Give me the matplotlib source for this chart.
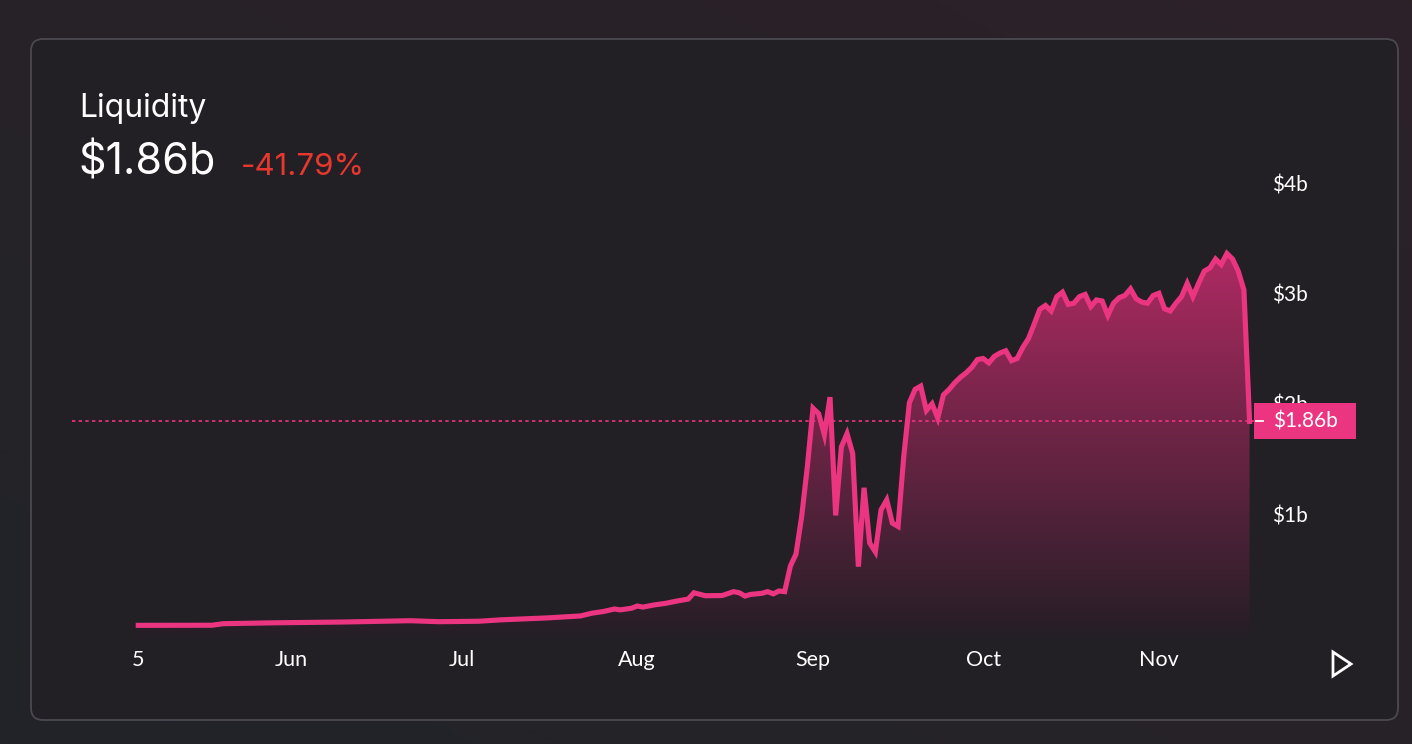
import matplotlib
matplotlib.use("Agg")
import matplotlib.pyplot as plt
import matplotlib.dates as mdates
from matplotlib.patches import FancyBboxPatch, Rectangle, Polygon
import numpy as np
import datetime as dt

# ---------------- data ----------------
dates = [
    "2020-05-05", "2020-05-18", "2020-05-20", "2020-05-29", "2020-06-10", "2020-06-22",
    "2020-06-27", "2020-07-04", "2020-07-08", "2020-07-16", "2020-07-22", "2020-07-24",
    "2020-07-26", "2020-07-28", "2020-07-29", "2020-07-31", "2020-08-01", "2020-08-02",
    "2020-08-04", "2020-08-06", "2020-08-08", "2020-08-10", "2020-08-11", "2020-08-13",
    "2020-08-16", "2020-08-18", "2020-08-19", "2020-08-20", "2020-08-21", "2020-08-23",
    "2020-08-24", "2020-08-25", "2020-08-26", "2020-08-27", "2020-08-28", "2020-08-29",
    "2020-08-30", "2020-08-31", "2020-09-01", "2020-09-02", "2020-09-03", "2020-09-04",
    "2020-09-05", "2020-09-06", "2020-09-07", "2020-09-08", "2020-09-09", "2020-09-10",
    "2020-09-11", "2020-09-12", "2020-09-13", "2020-09-14", "2020-09-15", "2020-09-16",
    "2020-09-17", "2020-09-18", "2020-09-19", "2020-09-20", "2020-09-21", "2020-09-22",
    "2020-09-23", "2020-09-24", "2020-09-25", "2020-09-26", "2020-09-27", "2020-09-28",
    "2020-09-29", "2020-09-30", "2020-10-01", "2020-10-02", "2020-10-03", "2020-10-04",
    "2020-10-05", "2020-10-06", "2020-10-07", "2020-10-08", "2020-10-09", "2020-10-10",
    "2020-10-11", "2020-10-12", "2020-10-13", "2020-10-14", "2020-10-15", "2020-10-16",
    "2020-10-17", "2020-10-18", "2020-10-19", "2020-10-20", "2020-10-21", "2020-10-22",
    "2020-10-23", "2020-10-24", "2020-10-25", "2020-10-26", "2020-10-27", "2020-10-28",
    "2020-10-29", "2020-10-30", "2020-10-31", "2020-11-01", "2020-11-02", "2020-11-03",
    "2020-11-04", "2020-11-05", "2020-11-06", "2020-11-07", "2020-11-08", "2020-11-09",
    "2020-11-10", "2020-11-11", "2020-11-12", "2020-11-13", "2020-11-14", "2020-11-15",
    "2020-11-16", "2020-11-17",
]
liquidity_b = [
    0.015, 0.016, 0.030, 0.038, 0.045, 0.057,
    0.048, 0.052, 0.065, 0.082, 0.100, 0.125,
    0.140, 0.163, 0.155, 0.170, 0.190, 0.180,
    0.200, 0.214, 0.235, 0.253, 0.310, 0.283,
    0.285, 0.320, 0.310, 0.280, 0.295, 0.305,
    0.320, 0.300, 0.326, 0.320, 0.550, 0.660,
    1.000, 1.450, 1.980, 1.930, 1.740, 2.080,
    1.010, 1.630, 1.750, 1.570, 0.546, 1.260,
    0.760, 0.680, 1.060, 1.150, 0.940, 0.910,
    1.540, 2.030, 2.150, 2.180, 1.960, 2.020,
    1.890, 2.100, 2.150, 2.210, 2.260, 2.300,
    2.350, 2.420, 2.430, 2.390, 2.450, 2.480,
    2.500, 2.410, 2.430, 2.530, 2.610, 2.740,
    2.875, 2.910, 2.860, 2.990, 3.030, 2.920,
    2.930, 2.990, 3.010, 2.900, 2.960, 2.950,
    2.820, 2.930, 2.980, 3.000, 3.060, 2.970,
    2.940, 2.930, 3.000, 3.020, 2.880, 2.860,
    2.930, 2.990, 3.110, 2.990, 3.110, 3.220,
    3.250, 3.330, 3.280, 3.380, 3.330, 3.220,
    3.050, 1.860,
]
x_tick_dates = ["2020-05-05", "2020-06-01", "2020-07-01", "2020-08-01",
                "2020-09-01", "2020-10-01", "2020-11-01"]
x_tick_labels = ["5", "Jun", "Jul", "Aug", "Sep", "Oct", "Nov"]
y_ticks = [1, 2, 3, 4]
y_tick_labels = ["$1b", "$2b", "$3b", "$4b"]
title = "Liquidity"
current_label = "$1.86b"
change_label = "-41.79%"
current_value = 1.86

# ---------------- style ----------------
W, H = 1412, 744
PINK = "#ec3580"
fig = plt.figure(figsize=(W / 100, H / 100), dpi=100)

# background gradient
bg = fig.add_axes([0, 0, 1, 1])
bg.set_xlim(0, W)
bg.set_ylim(H, 0)
bg.axis("off")
gx = np.linspace(0, 1, 200)
gy = np.linspace(0, 1, 200)
GX, GY = np.meshgrid(gx, gy)
t = np.clip((GX + GY) / 2, 0, 1)  # 0 bottom-left -> 1 top-right
c0 = np.array([33, 36, 40]) / 255
c1 = np.array([45, 33, 40]) / 255
img = c0[None, None, :] * (1 - t[..., None]) + c1[None, None, :] * t[..., None]
bg.imshow(img, extent=[0, W, H, 0], origin="lower", aspect="auto", zorder=0)
bg.set_xlim(0, W)
bg.set_ylim(H, 0)
card = FancyBboxPatch((31, 39), 1398 - 31, 720 - 39,
                      boxstyle="round,pad=0,rounding_size=12",
                      facecolor="#221f25", edgecolor="#4b4850", linewidth=1.3, zorder=1)
bg.add_patch(card)

# title texts
bg.text(79, 108, title, color="white", fontsize=23, family="Inter",
        va="center", ha="left", zorder=3)
bg.text(78, 163, current_label, color="white", fontsize=31, family="Inter",
        va="center", ha="left", zorder=3)
bg.text(241, 167, change_label, color="#e8372f", fontsize=22.5, family="Inter",
        va="center", ha="left", zorder=3)

# play triangle
tri = Polygon([[1333, 652], [1351, 664], [1333, 676]], closed=True, fill=False,
              edgecolor="white", linewidth=2.0, joinstyle="miter", zorder=3)
bg.add_patch(tri)

# ---------------- main chart ----------------
def px_to_v(y):
    return (627 - y) / 110.5

sep1 = mdates.date2num(dt.datetime(2020, 9, 1))
def px_to_x(x):
    return sep1 + (x - 813) / 5.67

left_px, right_px, top_px, bot_px = 72, 1254, 160, 640
ax = fig.add_axes([left_px / W, 1 - bot_px / H, (right_px - left_px) / W, (bot_px - top_px) / H])
ax.patch.set_alpha(0)
for s in ax.spines.values():
    s.set_visible(False)

xd = mdates.date2num([dt.datetime.strptime(d, "%Y-%m-%d") for d in dates])
yv = np.array(liquidity_b)

# gradient fill
ybot = px_to_v(bot_px)
ytop = max(liquidity_b)
poly = np.vstack([np.column_stack([xd, yv]), [[xd[-1], ybot], [xd[0], ybot]]])
clip = Polygon(poly, closed=True, transform=ax.transData, facecolor="none", edgecolor="none")
ax.add_patch(clip)
top_c = np.array([174, 42, 98]) / 255
bot_c = np.array([36, 30, 38]) / 255
n = 256
f = np.linspace(0, 1, n)[:, None]  # 0 at bottom -> 1 at top
grad = bot_c[None, :] * (1 - f) + top_c[None, :] * f
grad = grad[:, None, :]
im = ax.imshow(grad, extent=[xd[0], xd[-1], ybot, ytop], origin="lower",
               aspect="auto", zorder=1, interpolation="bilinear")
im.set_clip_path(clip)

ax.plot(xd, yv, color=PINK, linewidth=3.7, solid_joinstyle="miter", zorder=3)

# current value dashed line
ax.axhline(current_value, color=PINK, linewidth=1.2, linestyle=(0, (2.0, 2.0)), zorder=2)

ax.set_xlim(px_to_x(left_px), px_to_x(right_px))
ax.set_ylim(px_to_v(bot_px), px_to_v(top_px))

# ticks
ax.set_xticks(mdates.date2num([dt.datetime.strptime(d, "%Y-%m-%d") for d in x_tick_dates]))
ax.set_xticklabels(x_tick_labels)
ax.tick_params(axis="x", length=0, pad=7, labelcolor="white", labelsize=15.5)
for lbl in ax.get_xticklabels():
    lbl.set_family("Lato")
ax.set_yticks([])

# y labels on right (in figure pixel coords)
for v, lab in zip(y_ticks, y_tick_labels):
    ypx = 627 - v * 110.5
    bg.text(1272, ypx, lab, color="white", fontsize=15, family="Lato",
            va="center", ha="left", zorder=3)

# price tag
ypx = 627 - current_value * 110.5
bg.add_patch(Rectangle((1254, ypx - 18), 102, 36, facecolor=PINK, edgecolor="none", zorder=4))
bg.plot([1256, 1263], [ypx, ypx], color="white", linewidth=1.3, zorder=5)
bg.text(1273, ypx + 0.5, current_label, color="white", fontsize=15, family="Lato",
        va="center", ha="left", zorder=5)

fig.savefig("out.png", dpi=100)
